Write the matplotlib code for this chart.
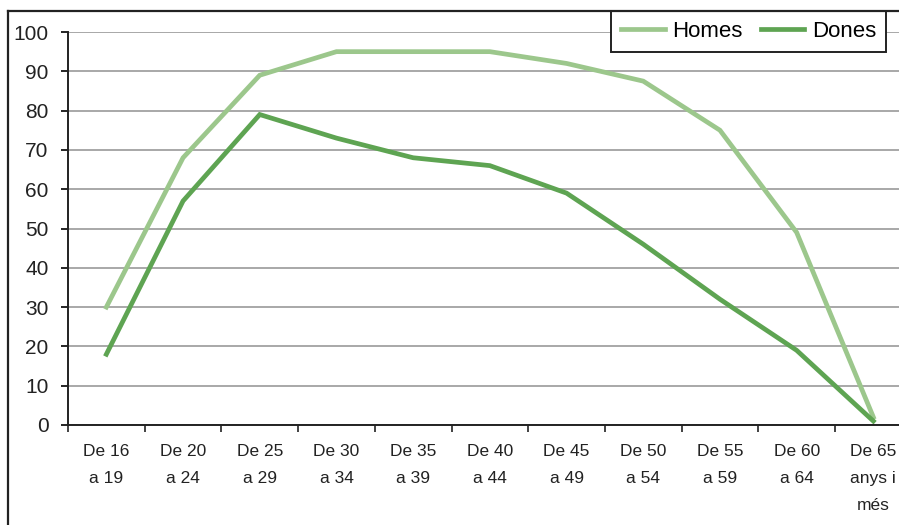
import matplotlib
matplotlib.use("Agg")
from matplotlib import pyplot as plt
from matplotlib.lines import Line2D
import numpy as np

categories = ["De 16\na 19", "De 20\na 24", "De 25\na 29", "De 30\na 34", "De 35\na 39",
              "De 40\na 44", "De 45\na 49", "De 50\na 54", "De 55\na 59", "De 60\na 64",
              "De 65\nanys i\nmés"]
homes = [30, 68, 89, 95, 95, 95, 92, 87.5, 75, 49, 2]
dones = [18, 57, 79, 73, 68, 66, 59, 46, 32, 19, 1]

plt.rcParams['font.family'] = ['Liberation Sans', 'DejaVu Sans']

fig = plt.figure(figsize=(8.99, 5.25), dpi=100)
W, H = 899., 525.
# axes: left at x=68, bottom (0) at y=425, top (100) at y=32, right beyond image
x0, x1 = 68, 68 + 11 * 76.7
ax = fig.add_axes([x0 / W, (H - 425) / H, (x1 - x0) / W, (425 - 32) / H])

x = np.arange(len(categories))
ax.plot(x, homes, color='#9cc78c', lw=3.4, label='Homes', solid_joinstyle='miter')
ax.plot(x, dones, color='#5ea452', lw=3.4, label='Dones', solid_joinstyle='miter')

ax.set_xlim(-0.5, len(categories) - 0.5)
ax.set_ylim(0, 100)
ax.set_yticks(range(0, 101, 10))
ax.yaxis.grid(True, color='#9a9a9a', lw=1.2)
ax.set_axisbelow(True)
ax.set_xticks(x)
ax.set_xticklabels(categories, fontsize=12.5, color='#222222', linespacing=2.0)
ax.set_xticks(np.arange(-0.5, len(categories)), minor=True)
ax.tick_params(axis='x', which='major', length=0, pad=14)
ax.tick_params(axis='x', which='minor', length=5, width=1.2, color='#222222')
ax.tick_params(axis='y', length=5, width=1.2, labelsize=15, labelcolor='#222222', pad=9)
for s in ['top', 'right']:
    ax.spines[s].set_visible(False)
for s in ['left', 'bottom']:
    ax.spines[s].set_color('#222222')
    ax.spines[s].set_linewidth(1.4)

leg = ax.legend(loc='upper right', bbox_to_anchor=((886 - x0) / (x1 - x0), (425 - 11) / 393.),
                ncol=2, fontsize=16, frameon=True, fancybox=False, framealpha=1,
                borderaxespad=0, handlelength=1.95, columnspacing=0.8,
                borderpad=0.45, handletextpad=0.35)
leg.get_frame().set_edgecolor('#222222')
leg.get_frame().set_linewidth(1.4)

# outer frame (left and top edges visible)
fig.add_artist(Line2D([7.5 / W, 7.5 / W], [0, 1 - 10.5 / H], color='#222222', lw=1.6))
fig.add_artist(Line2D([7.5 / W, 1], [1 - 10.5 / H, 1 - 10.5 / H], color='#222222', lw=1.6))

fig.savefig('out.png', dpi=100)
